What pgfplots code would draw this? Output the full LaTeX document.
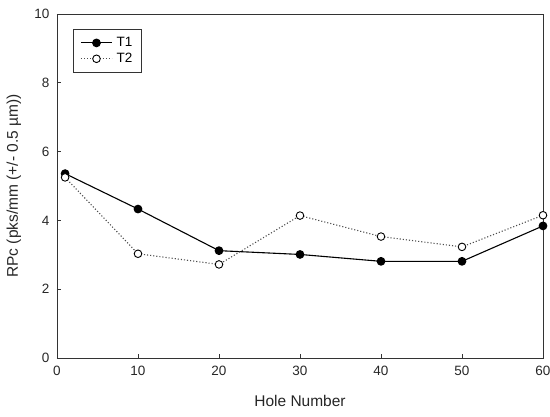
\documentclass[border=0pt]{standalone}
\usepackage{pgfplots}
\pgfplotsset{compat=1.18}
\usepackage{fontspec}
\setmainfont{Liberation Sans}
\begin{document}
\begin{tikzpicture}
\begin{axis}[
  scale only axis,
  width=486pt, height=344pt,
  xmin=0, xmax=60, ymin=0, ymax=10,
  xtick={0,10,...,60}, ytick={0,2,...,10},
  xtick pos=bottom, ytick pos=left,
  tick align=inside,
  major tick length=4pt,
  axis line style={black!80, line width=0.9pt},
  tick style={black!80, line width=0.9pt},
  /pgf/number format/assume math mode=true,
  tick label style={font=\fontsize{13.5}{16}\selectfont, black!85},
  xticklabel style={yshift=-5pt},
  yticklabel style={xshift=-4pt},
  label style={font=\fontsize{15.5}{18}\selectfont, black!85},
  xlabel={Hole Number},
  ylabel={RPc (pks/mm (+/- 0.5 µm))},
  xlabel style={at={(axis description cs:0.5,-0.125)}, anchor=center},
  ylabel style={at={(axis description cs:-0.0885,0.5)}, anchor=center, rotate=0},
  legend style={at={(axis description cs:0.033,0.956)}, anchor=north west,
    draw=black!80, line width=0.8pt, font=\fontsize{13.5}{16}\selectfont,
    inner xsep=7pt, inner ysep=6pt, row sep=1pt,
    /tikz/every odd column/.append style={column sep=2pt}},
  legend cell align=left,
  legend image code/.code={%
    \draw[mark repeat=2, mark phase=2, #1] plot coordinates {(0pt,0pt) (15.5pt,0pt) (31pt,0pt)};},
  clip=false,
]
\addplot[black, line width=1.1pt, mark=*, mark size=3.8pt, mark options={solid, fill=black}]
  coordinates {(1,5.36) (10,4.33) (20,3.12) (30,3.01) (40,2.81) (50,2.81) (60,3.84)};
\addlegendentry{T1}
\addplot[black!70, dotted, line width=1.1pt, mark=*, mark size=3.8pt, mark options={solid, fill=white, draw=black, line width=0.9pt}]
  coordinates {(1,5.25) (10,3.03) (20,2.72) (30,4.14) (40,3.53) (50,3.23) (60,4.15)};
\addlegendentry{T2}
\end{axis}
\pgfresetboundingbox
\path (-57pt,-59pt) rectangle (493pt,358pt);
\end{tikzpicture}
\end{document}
